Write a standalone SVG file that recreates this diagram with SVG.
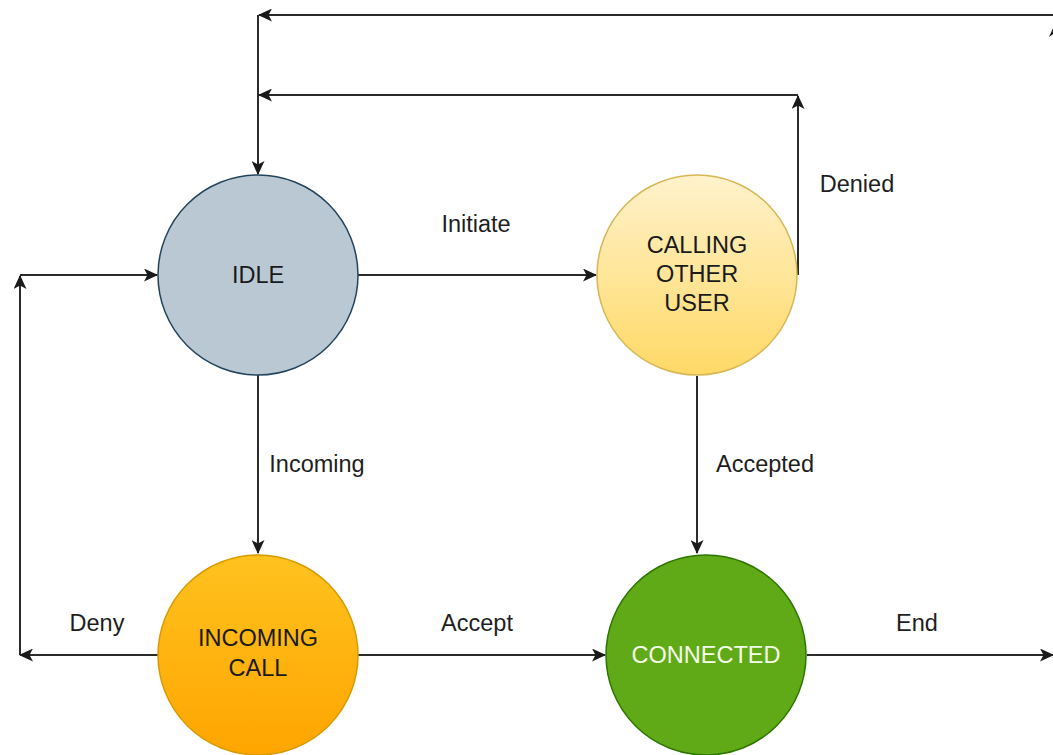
<svg xmlns="http://www.w3.org/2000/svg" width="1053" height="755" viewBox="0 0 1053 755">
<defs>
<marker id="arr" viewBox="0 0 14 13" refX="13" refY="6.5" markerWidth="14" markerHeight="13" markerUnits="userSpaceOnUse" orient="auto">
<path d="M0,0 L14,6.5 L0,13 L3.5,6.5 z" fill="#1a1a1a"/>
</marker>
<linearGradient id="gCall" x1="0" y1="0" x2="0" y2="1">
<stop offset="0" stop-color="#fff2cc"/>
<stop offset="1" stop-color="#ffd966"/>
</linearGradient>
<linearGradient id="gInc" x1="0" y1="0" x2="0" y2="1">
<stop offset="0" stop-color="#ffc21f"/>
<stop offset="1" stop-color="#ffa500"/>
</linearGradient>
</defs>
<style>
.e{fill:none;stroke:#2b2b2b;stroke-width:2;marker-end:url(#arr)}
.t{font-family:"Liberation Sans",Arial,sans-serif;font-size:23.5px;fill:#1e1e1e;text-anchor:middle}
.n{font-family:"Liberation Sans",Arial,sans-serif;font-size:23.5px;fill:#1a1a1a;text-anchor:middle}
</style>
<rect width="1053" height="755" fill="#ffffff"/>
<g id="connectors">
<path class="e" d="M1053,15 L259,15"/>
<path class="e" d="M258,15 L258,174"/>
<path class="e" d="M798,275 L798,96"/>
<path class="e" d="M798,95 L259,95"/>
<path class="e" d="M358,275 L596,275"/>
<path class="e" d="M258,375 L258,553"/>
<path class="e" d="M697,376 L697,553"/>
<path class="e" d="M358,655 L605,655"/>
<path class="e" d="M807,655 L1053,655"/>
<path class="e" d="M158,655 L20,655"/>
<path class="e" d="M20,655 L20,276"/>
<path class="e" d="M20,275 L157,275"/>
<polygon points="1055,24 1061,37 1055,33 1049,37" fill="#1a1a1a"/>
<text class="t" x="476" y="232">Initiate</text>
<text class="t" x="857" y="192">Denied</text>
<text class="t" x="317" y="472">Incoming</text>
<text class="t" x="765" y="472">Accepted</text>
<text class="t" x="97" y="631">Deny</text>
<text class="t" x="477" y="631">Accept</text>
<text class="t" x="917" y="631">End</text>
</g>
<g id="idle">
<circle cx="258" cy="275" r="100" fill="#bac8d3" stroke="#23445d" stroke-width="1.5"/>
<text class="n" x="258" y="283">IDLE</text>
</g>
<g id="calling">
<circle cx="697" cy="275" r="100" fill="url(#gCall)" stroke="#d6b656" stroke-width="1.5"/>
<text class="n" x="697" y="253">CALLING</text>
<text class="n" x="697" y="282">OTHER</text>
<text class="n" x="697" y="311">USER</text>
</g>
<g id="incoming">
<circle cx="258" cy="655" r="100" fill="url(#gInc)" stroke="#d79b00" stroke-width="1.5"/>
<text class="n" x="258" y="646">INCOMING</text>
<text class="n" x="258" y="676">CALL</text>
</g>
<g id="connected">
<circle cx="706" cy="655" r="100" fill="#60a917" stroke="#2d7600" stroke-width="1.5"/>
<text class="n" x="706" y="663" style="fill:#f4ffe8">CONNECTED</text>
</g>
</svg>
